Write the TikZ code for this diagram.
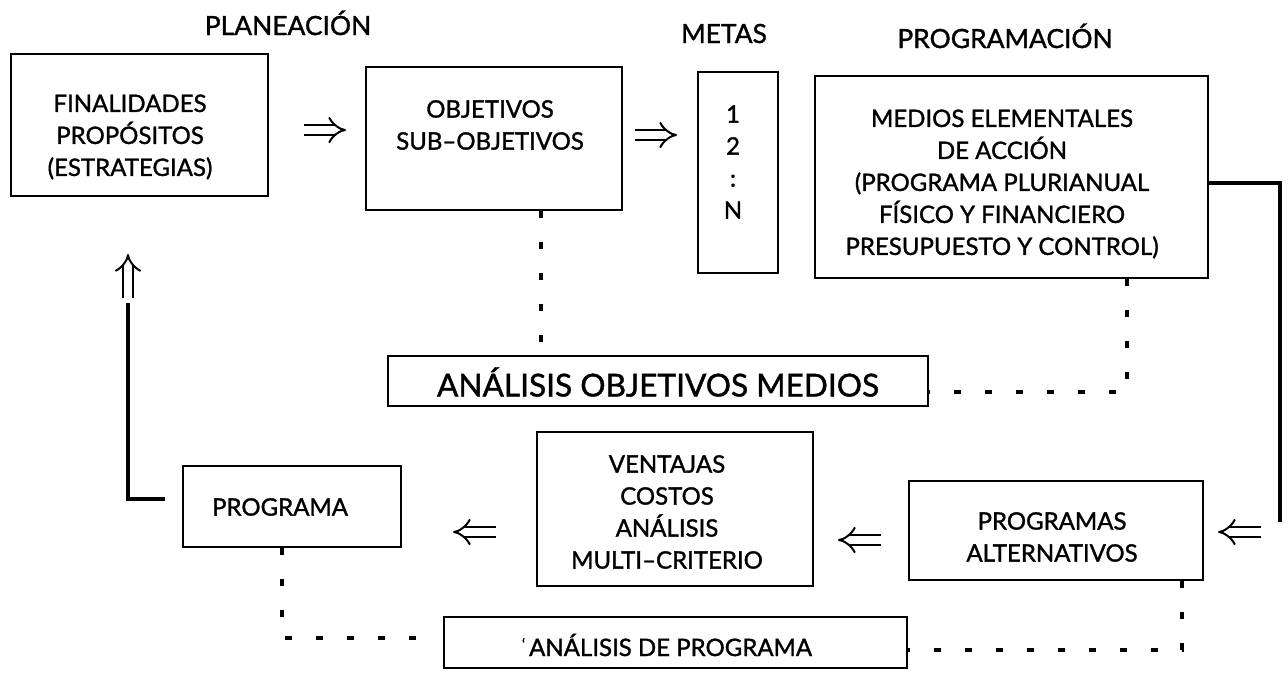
\documentclass[tikz,border=0pt]{standalone}
\usepackage{fontspec}
\setmainfont{Lato}[FakeBold=1.3]
\usetikzlibrary{arrows.meta}
\begin{document}
\begin{tikzpicture}[x=0.75pt,y=-0.75pt,
  box/.style={draw, line width=1.5pt, inner sep=0pt},
  txt/.style={align=center, font=\fontsize{18}{24}\selectfont, inner sep=0pt},
  bigtxt/.style={font=\fontsize{23.7}{27}\selectfont, inner sep=0pt},
  lab/.style={font=\fontsize{19.8}{24}\selectfont, inner sep=0pt, anchor=base},
  dashline/.style={line width=2.8pt, dash pattern=on 5.5pt off 17.75pt},
  loopline/.style={line width=2.8pt},
  dbl/.style={double, double distance=5.4pt, line width=1.5pt, -{Implies[scale=1.25]}},
]
\useasboundingbox (0,0) rectangle (1288,675);
% titles
\node[lab] (tplan) at (288,35) {PLANEACIÓN};
\node[lab] (tmetas) at (724,43) {METAS};
\node[lab] (tprog) at (1005,48) {PROGRAMACIÓN};
% boxes
\node[box, minimum width=257*0.75pt, minimum height=142*0.75pt] (fin) at (139.5,125) {};
\node[box, minimum width=256*0.75pt, minimum height=143*0.75pt] (obj) at (494,138.5) {};
\node[box, minimum width=80*0.75pt, minimum height=201*0.75pt] (metas) at (738,172.5) {};
\node[box, minimum width=393*0.75pt, minimum height=202*0.75pt] (medios) at (1011.5,177) {};
\node[box, minimum width=540*0.75pt, minimum height=50*0.75pt] (aom) at (658,381) {};
\node[box, minimum width=218*0.75pt, minimum height=81*0.75pt] (prog) at (292,506.5) {};
\node[box, minimum width=276*0.75pt, minimum height=154*0.75pt] (vent) at (675,509) {};
\node[box, minimum width=294*0.75pt, minimum height=99*0.75pt] (pa) at (1056,530.5) {};
\node[box, minimum width=463*0.75pt, minimum height=51*0.75pt] (adp) at (675.5,642.5) {};
% texts
\node[txt] (fint) at (130,137) {FINALIDADES\\PROPÓSITOS\\(ESTRATEGIAS)};
\node[txt] (objt) at (490,125) {OBJETIVOS\\SUB–OBJETIVOS};
\node[txt] (metast) at (733,162) {1\\2\\:\\N};
\node[txt] (mediost) at (1002,184) {MEDIOS ELEMENTALES\\DE ACCIÓN\\(PROGRAMA PLURIANUAL\\FÍSICO Y FINANCIERO\\PRESUPUESTO Y CONTROL)};
\node[bigtxt] (aomt) at (658,382) {ANÁLISIS OBJETIVOS MEDIOS};
\node[txt] (progt) at (280,507) {PROGRAMA};
\node[txt] (ventt) at (667,512) {VENTAJAS\\COSTOS\\ANÁLISIS\\MULTI–CRITERIO};
\node[txt] (pat) at (1052,537) {PROGRAMAS\\ALTERNATIVOS};
\node[txt] (adpt) at (667,645) {{\fontsize{11}{11}\selectfont\raisebox{5pt}{‘}}\,ANÁLISIS DE PROGRAMA};
% double arrows
\draw[dbl, shorten <=35*0.75pt, shorten >=19*0.75pt] (fin.east |- 0,130) -- (obj.west |- 0,130);
\draw[dbl, shorten <=12*0.75pt, shorten >=20*0.75pt] (obj.east |- 0,135) -- (metas.west |- 0,135);
\draw[dbl, shorten <=27*0.75pt, shorten >=24*0.75pt] (pa.west |- 0,540) -- (vent.east |- 0,540);
\draw[dbl, shorten <=40*0.75pt, shorten >=51*0.75pt] (vent.west |- 0,532) -- (prog.east |- 0,532);
% loop on the right
\coordinate (rtop) at (1280,183);
\coordinate (rend) at (1280,522);
\coordinate (rarr) at (1261,532);
\draw[loopline] (medios.east |- rtop) -- (rtop) -- (rend);
\draw[dbl, shorten >=14*0.75pt] (rarr) -- (pa.east |- rarr);
% loop on the left
\coordinate (lend) at (165,499);
\coordinate (lcor) at (128,499);
\coordinate (ltop) at (128,303);
\coordinate (larr) at (128,298);
\draw[loopline] (lend) -- (lcor) -- (ltop);
\draw[dbl, shorten >=57*0.75pt] (larr) -- (fin.south -| larr);
% dashed links
\draw[dashline] (541,0 |- obj.south) -- (541,0 |- aom.north);
\draw[dashline] (1127,0 |- medios.south) -- (1127,392) -- (aom.east |- 0,392);
\coordinate (dl) at (417,638);
\draw[dashline] (282,0 |- prog.south) -- (282,638) -- (dl);
\draw[dashline] (1182,0 |- pa.south) -- (1182,650) -- (adp.east |- 0,650);
\end{tikzpicture}
\end{document}
